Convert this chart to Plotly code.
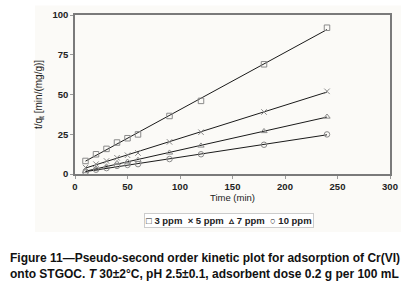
import numpy as np
import plotly.graph_objects as go

time_min = [10, 20, 30, 40, 50, 60, 90, 120, 180, 240]
series_names = ["3 ppm", "5 ppm", "7 ppm", "10 ppm"]
t_qt_3ppm = [8.2, 12.4, 15.8, 19.8, 22.5, 24.9, 36.5, 46.0, 69.0, 92.0]
t_qt_5ppm = [4.1, 6.2, 8.2, 10.2, 11.8, 13.2, 20.2, 26.3, 39.0, 52.0]
t_qt_7ppm = [1.7, 3.3, 4.7, 6.8, 7.7, 8.8, 13.4, 17.8, 26.9, 36.0]
t_qt_10ppm = [1.1, 2.7, 3.7, 5.1, 5.7, 6.2, 9.4, 12.4, 18.4, 24.9]
symbols = ["square-open", "x-thin-open", "triangle-up-open", "circle-open"]
x_ticks = [0, 50, 100, 150, 200, 250, 300]
y_ticks = [0, 25, 50, 75, 100]

all_series = [t_qt_3ppm, t_qt_5ppm, t_qt_7ppm, t_qt_10ppm]

fig = go.Figure()
x = np.array(time_min, dtype=float)
for name, ys, sym in zip(series_names, all_series, symbols):
    k, b = np.polyfit(x, np.array(ys), 1)
    xf = np.array([x.min(), x.max()])
    fig.add_trace(go.Scatter(x=xf, y=k * xf + b, mode="lines",
                             line=dict(color="#1a1a1a", width=1),
                             showlegend=False, hoverinfo="skip"))
    fig.add_trace(go.Scatter(x=time_min, y=ys, mode="markers", name=name,
                             marker=dict(symbol=sym, size=5.5, color="#8a8a8a",
                                         line=dict(width=1, color="#8a8a8a")),
                             showlegend=False))

font_fam = "Liberation Sans, Arial, sans-serif"
axis_common = dict(showgrid=False, zeroline=False, showline=True, linecolor="#7a7a7a",
                   linewidth=1.5, mirror=True, ticks="outside", ticklen=3,
                   tickcolor="#9a9a9a", ticklabeloverflow="allow",
                   tickfont=dict(family=font_fam, size=9.5, color="#222222", weight="bold"))

fig.update_layout(
    width=412, height=293,
    margin=dict(l=75, r=22, t=9, b=119),
    paper_bgcolor="white", plot_bgcolor="#fdfcfa",
    font=dict(family=font_fam, color="#222222"),
    xaxis=dict(range=[0, 300], tickvals=x_ticks,
               title=dict(text="Time (min)", font=dict(size=9.5, family=font_fam), standoff=2),
               **axis_common),
    yaxis=dict(range=[0, 100], tickvals=y_ticks,
               title=dict(text="t/q<sub>t</sub> [min/(mg/g)]", font=dict(size=10, family=font_fam), standoff=8),
               **axis_common),
    showlegend=False,
)

fig.add_shape(type="rect", xref="paper", yref="paper", x0=-0.127, x1=1.035, y0=-0.364, y1=1.06,
              fillcolor="#fbfaf7", line=dict(width=0), layer="below")

legend_text = "□ " + series_names[0] + "  × " + series_names[1] + "  ▵ " + series_names[2] + "  ○ " + series_names[3]
fig.add_annotation(xref="paper", yref="paper", x=0.49, y=-0.29, text="<b>" + legend_text + "</b>",
                   showarrow=False, font=dict(size=9.5, family=font_fam, color="#222222"),
                   bordercolor="#cccccc", borderwidth=1, borderpad=1, bgcolor="white",
                   xanchor="center", yanchor="middle")

caption = ("<b>Figure 11—Pseudo-second order kinetic plot for adsorption of Cr(VI)<br>"
           "onto STGOC. <i>T</i> 30±2°C, pH 2.5±0.1, adsorbent dose 0.2 g per 100 mL</b>")
fig.add_annotation(xref="paper", yref="paper", x=-0.213, y=-0.578, text=caption,
                   showarrow=False, align="left", xanchor="left", yanchor="middle",
                   font=dict(size=12, family=font_fam, color="#111111"))

fig.write_html("out.html", config={"displayModeBar": False},
               post_script="document.body.style.margin='0';document.body.style.padding='0';")
